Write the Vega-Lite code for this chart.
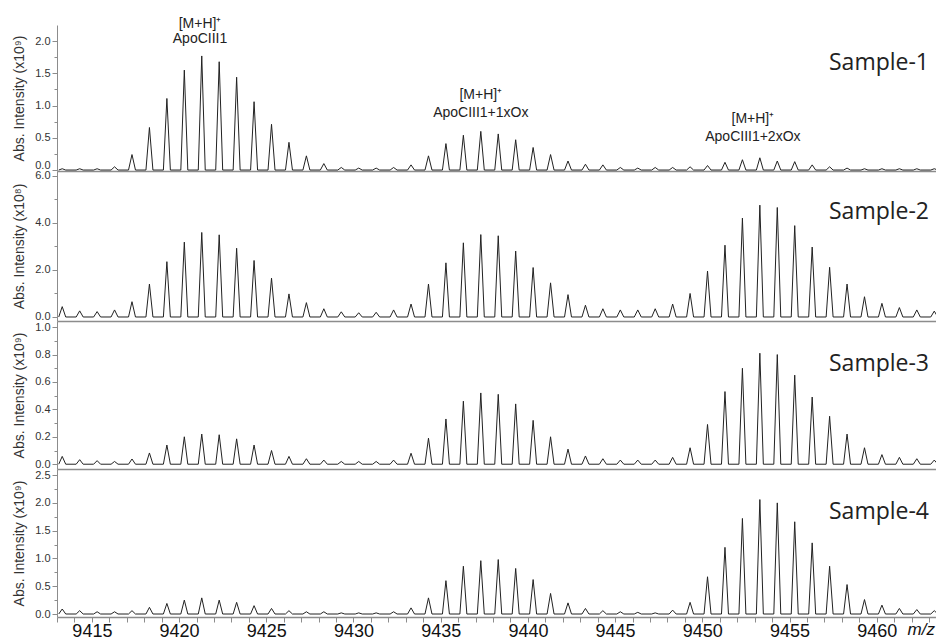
{
"$schema":"https://vega.github.io/schema/vega-lite/v6.json",
"background":"white",
"padding":{"left":12,"top":16,"right":0,"bottom":0},
"bounds":"flush",
"spacing":0,
"config":{"view":{"stroke":null},"axis":{"grid":false,"labelFont":"Liberation Sans","labelFontSize":11,"labelColor":"#333","titleFont":"Liberation Sans","titleFontSize":14,"titleFontWeight":"normal","titleColor":"#333","domainColor":"#8c8c8c","tickColor":"#8c8c8c","labelOverlap":false,"labelFlush":false,"labelPadding":2,"titlePadding":8}},
"datasets":{
"p1":[
{"x":9413.1,"y":0},{"x":9413.3,"y":0.02},{"x":9413.5,"y":0},
{"x":9414.1,"y":0},{"x":9414.3,"y":0.02},{"x":9414.5,"y":0},
{"x":9415.1,"y":0},{"x":9415.3,"y":0.02},{"x":9415.5,"y":0},
{"x":9416.1,"y":0},{"x":9416.3,"y":0.05},{"x":9416.5,"y":0},
{"x":9417.1,"y":0},{"x":9417.3,"y":0.24},{"x":9417.5,"y":0},
{"x":9418.1,"y":0},{"x":9418.3,"y":0.66},{"x":9418.5,"y":0},
{"x":9419.1,"y":0},{"x":9419.3,"y":1.11},{"x":9419.5,"y":0},
{"x":9420.1,"y":0},{"x":9420.3,"y":1.55},{"x":9420.5,"y":0},
{"x":9421.1,"y":0},{"x":9421.3,"y":1.77},{"x":9421.5,"y":0},
{"x":9422.1,"y":0},{"x":9422.3,"y":1.68},{"x":9422.5,"y":0},
{"x":9423.1,"y":0},{"x":9423.3,"y":1.44},{"x":9423.5,"y":0},
{"x":9424.1,"y":0},{"x":9424.3,"y":1.06},{"x":9424.5,"y":0},
{"x":9425.1,"y":0},{"x":9425.3,"y":0.71},{"x":9425.5,"y":0},
{"x":9426.1,"y":0},{"x":9426.3,"y":0.43},{"x":9426.5,"y":0},
{"x":9427.1,"y":0},{"x":9427.3,"y":0.22},{"x":9427.5,"y":0},
{"x":9428.1,"y":0},{"x":9428.3,"y":0.10},{"x":9428.5,"y":0},
{"x":9429.1,"y":0},{"x":9429.3,"y":0.04},{"x":9429.5,"y":0},
{"x":9430.1,"y":0},{"x":9430.3,"y":0.03},{"x":9430.5,"y":0},
{"x":9431.1,"y":0},{"x":9431.3,"y":0.03},{"x":9431.5,"y":0},
{"x":9432.1,"y":0},{"x":9432.3,"y":0.04},{"x":9432.5,"y":0},
{"x":9433.1,"y":0},{"x":9433.3,"y":0.08},{"x":9433.5,"y":0},
{"x":9434.1,"y":0},{"x":9434.3,"y":0.22},{"x":9434.5,"y":0},
{"x":9435.1,"y":0},{"x":9435.3,"y":0.41},{"x":9435.5,"y":0},
{"x":9436.1,"y":0},{"x":9436.3,"y":0.54},{"x":9436.5,"y":0},
{"x":9437.1,"y":0},{"x":9437.3,"y":0.60},{"x":9437.5,"y":0},
{"x":9438.1,"y":0},{"x":9438.3,"y":0.56},{"x":9438.5,"y":0},
{"x":9439.1,"y":0},{"x":9439.3,"y":0.47},{"x":9439.5,"y":0},
{"x":9440.1,"y":0},{"x":9440.3,"y":0.35},{"x":9440.5,"y":0},
{"x":9441.1,"y":0},{"x":9441.3,"y":0.24},{"x":9441.5,"y":0},
{"x":9442.1,"y":0},{"x":9442.3,"y":0.14},{"x":9442.5,"y":0},
{"x":9443.1,"y":0},{"x":9443.3,"y":0.09},{"x":9443.5,"y":0},
{"x":9444.1,"y":0},{"x":9444.3,"y":0.08},{"x":9444.5,"y":0},
{"x":9445.1,"y":0},{"x":9445.3,"y":0.04},{"x":9445.5,"y":0},
{"x":9446.1,"y":0},{"x":9446.3,"y":0.03},{"x":9446.5,"y":0},
{"x":9447.1,"y":0},{"x":9447.3,"y":0.04},{"x":9447.5,"y":0},
{"x":9448.1,"y":0},{"x":9448.3,"y":0.04},{"x":9448.5,"y":0},
{"x":9449.1,"y":0},{"x":9449.3,"y":0.05},{"x":9449.5,"y":0},
{"x":9450.1,"y":0},{"x":9450.3,"y":0.07},{"x":9450.5,"y":0},
{"x":9451.1,"y":0},{"x":9451.3,"y":0.12},{"x":9451.5,"y":0},
{"x":9452.1,"y":0},{"x":9452.3,"y":0.16},{"x":9452.5,"y":0},
{"x":9453.1,"y":0},{"x":9453.3,"y":0.19},{"x":9453.5,"y":0},
{"x":9454.1,"y":0},{"x":9454.3,"y":0.14},{"x":9454.5,"y":0},
{"x":9455.1,"y":0},{"x":9455.3,"y":0.13},{"x":9455.5,"y":0},
{"x":9456.1,"y":0},{"x":9456.3,"y":0.08},{"x":9456.5,"y":0},
{"x":9457.1,"y":0},{"x":9457.3,"y":0.05},{"x":9457.5,"y":0},
{"x":9458.1,"y":0},{"x":9458.3,"y":0.03},{"x":9458.5,"y":0},
{"x":9459.1,"y":0},{"x":9459.3,"y":0.02},{"x":9459.5,"y":0},
{"x":9460.1,"y":0},{"x":9460.3,"y":0.02},{"x":9460.5,"y":0},
{"x":9461.1,"y":0},{"x":9461.3,"y":0.02},{"x":9461.5,"y":0},
{"x":9462.1,"y":0},{"x":9462.3,"y":0.02},{"x":9462.5,"y":0},
{"x":9463.1,"y":0},{"x":9463.3,"y":0.02},{"x":9463.5,"y":0}
],
"p2":[
{"x":9413.1,"y":0},{"x":9413.3,"y":0.44},{"x":9413.5,"y":0},
{"x":9414.1,"y":0},{"x":9414.3,"y":0.26},{"x":9414.5,"y":0},
{"x":9415.1,"y":0},{"x":9415.3,"y":0.23},{"x":9415.5,"y":0},
{"x":9416.1,"y":0},{"x":9416.3,"y":0.30},{"x":9416.5,"y":0},
{"x":9417.1,"y":0},{"x":9417.3,"y":0.65},{"x":9417.5,"y":0},
{"x":9418.1,"y":0},{"x":9418.3,"y":1.40},{"x":9418.5,"y":0},
{"x":9419.1,"y":0},{"x":9419.3,"y":2.35},{"x":9419.5,"y":0},
{"x":9420.1,"y":0},{"x":9420.3,"y":3.18},{"x":9420.5,"y":0},
{"x":9421.1,"y":0},{"x":9421.3,"y":3.59},{"x":9421.5,"y":0},
{"x":9422.1,"y":0},{"x":9422.3,"y":3.49},{"x":9422.5,"y":0},
{"x":9423.1,"y":0},{"x":9423.3,"y":2.92},{"x":9423.5,"y":0},
{"x":9424.1,"y":0},{"x":9424.3,"y":2.40},{"x":9424.5,"y":0},
{"x":9425.1,"y":0},{"x":9425.3,"y":1.65},{"x":9425.5,"y":0},
{"x":9426.1,"y":0},{"x":9426.3,"y":0.98},{"x":9426.5,"y":0},
{"x":9427.1,"y":0},{"x":9427.3,"y":0.61},{"x":9427.5,"y":0},
{"x":9428.1,"y":0},{"x":9428.3,"y":0.35},{"x":9428.5,"y":0},
{"x":9429.1,"y":0},{"x":9429.3,"y":0.22},{"x":9429.5,"y":0},
{"x":9430.1,"y":0},{"x":9430.3,"y":0.18},{"x":9430.5,"y":0},
{"x":9431.1,"y":0},{"x":9431.3,"y":0.20},{"x":9431.5,"y":0},
{"x":9432.1,"y":0},{"x":9432.3,"y":0.30},{"x":9432.5,"y":0},
{"x":9433.1,"y":0},{"x":9433.3,"y":0.55},{"x":9433.5,"y":0},
{"x":9434.1,"y":0},{"x":9434.3,"y":1.40},{"x":9434.5,"y":0},
{"x":9435.1,"y":0},{"x":9435.3,"y":2.30},{"x":9435.5,"y":0},
{"x":9436.1,"y":0},{"x":9436.3,"y":3.15},{"x":9436.5,"y":0},
{"x":9437.1,"y":0},{"x":9437.3,"y":3.50},{"x":9437.5,"y":0},
{"x":9438.1,"y":0},{"x":9438.3,"y":3.45},{"x":9438.5,"y":0},
{"x":9439.1,"y":0},{"x":9439.3,"y":2.80},{"x":9439.5,"y":0},
{"x":9440.1,"y":0},{"x":9440.3,"y":2.10},{"x":9440.5,"y":0},
{"x":9441.1,"y":0},{"x":9441.3,"y":1.45},{"x":9441.5,"y":0},
{"x":9442.1,"y":0},{"x":9442.3,"y":0.95},{"x":9442.5,"y":0},
{"x":9443.1,"y":0},{"x":9443.3,"y":0.50},{"x":9443.5,"y":0},
{"x":9444.1,"y":0},{"x":9444.3,"y":0.35},{"x":9444.5,"y":0},
{"x":9445.1,"y":0},{"x":9445.3,"y":0.30},{"x":9445.5,"y":0},
{"x":9446.1,"y":0},{"x":9446.3,"y":0.30},{"x":9446.5,"y":0},
{"x":9447.1,"y":0},{"x":9447.3,"y":0.35},{"x":9447.5,"y":0},
{"x":9448.1,"y":0},{"x":9448.3,"y":0.55},{"x":9448.5,"y":0},
{"x":9449.1,"y":0},{"x":9449.3,"y":1.00},{"x":9449.5,"y":0},
{"x":9450.1,"y":0},{"x":9450.3,"y":1.95},{"x":9450.5,"y":0},
{"x":9451.1,"y":0},{"x":9451.3,"y":3.05},{"x":9451.5,"y":0},
{"x":9452.1,"y":0},{"x":9452.3,"y":4.20},{"x":9452.5,"y":0},
{"x":9453.1,"y":0},{"x":9453.3,"y":4.75},{"x":9453.5,"y":0},
{"x":9454.1,"y":0},{"x":9454.3,"y":4.65},{"x":9454.5,"y":0},
{"x":9455.1,"y":0},{"x":9455.3,"y":3.88},{"x":9455.5,"y":0},
{"x":9456.1,"y":0},{"x":9456.3,"y":2.97},{"x":9456.5,"y":0},
{"x":9457.1,"y":0},{"x":9457.3,"y":2.11},{"x":9457.5,"y":0},
{"x":9458.1,"y":0},{"x":9458.3,"y":1.40},{"x":9458.5,"y":0},
{"x":9459.1,"y":0},{"x":9459.3,"y":0.86},{"x":9459.5,"y":0},
{"x":9460.1,"y":0},{"x":9460.3,"y":0.58},{"x":9460.5,"y":0},
{"x":9461.1,"y":0},{"x":9461.3,"y":0.40},{"x":9461.5,"y":0},
{"x":9462.1,"y":0},{"x":9462.3,"y":0.30},{"x":9462.5,"y":0},
{"x":9463.1,"y":0},{"x":9463.3,"y":0.25},{"x":9463.5,"y":0}
],
"p3":[
{"x":9413.1,"y":0},{"x":9413.3,"y":0.057},{"x":9413.5,"y":0},
{"x":9414.1,"y":0},{"x":9414.3,"y":0.033},{"x":9414.5,"y":0},
{"x":9415.1,"y":0},{"x":9415.3,"y":0.026},{"x":9415.5,"y":0},
{"x":9416.1,"y":0},{"x":9416.3,"y":0.02},{"x":9416.5,"y":0},
{"x":9417.1,"y":0},{"x":9417.3,"y":0.038},{"x":9417.5,"y":0},
{"x":9418.1,"y":0},{"x":9418.3,"y":0.082},{"x":9418.5,"y":0},
{"x":9419.1,"y":0},{"x":9419.3,"y":0.14},{"x":9419.5,"y":0},
{"x":9420.1,"y":0},{"x":9420.3,"y":0.20},{"x":9420.5,"y":0},
{"x":9421.1,"y":0},{"x":9421.3,"y":0.22},{"x":9421.5,"y":0},
{"x":9422.1,"y":0},{"x":9422.3,"y":0.215},{"x":9422.5,"y":0},
{"x":9423.1,"y":0},{"x":9423.3,"y":0.185},{"x":9423.5,"y":0},
{"x":9424.1,"y":0},{"x":9424.3,"y":0.14},{"x":9424.5,"y":0},
{"x":9425.1,"y":0},{"x":9425.3,"y":0.10},{"x":9425.5,"y":0},
{"x":9426.1,"y":0},{"x":9426.3,"y":0.057},{"x":9426.5,"y":0},
{"x":9427.1,"y":0},{"x":9427.3,"y":0.04},{"x":9427.5,"y":0},
{"x":9428.1,"y":0},{"x":9428.3,"y":0.03},{"x":9428.5,"y":0},
{"x":9429.1,"y":0},{"x":9429.3,"y":0.02},{"x":9429.5,"y":0},
{"x":9430.1,"y":0},{"x":9430.3,"y":0.02},{"x":9430.5,"y":0},
{"x":9431.1,"y":0},{"x":9431.3,"y":0.02},{"x":9431.5,"y":0},
{"x":9432.1,"y":0},{"x":9432.3,"y":0.03},{"x":9432.5,"y":0},
{"x":9433.1,"y":0},{"x":9433.3,"y":0.08},{"x":9433.5,"y":0},
{"x":9434.1,"y":0},{"x":9434.3,"y":0.19},{"x":9434.5,"y":0},
{"x":9435.1,"y":0},{"x":9435.3,"y":0.33},{"x":9435.5,"y":0},
{"x":9436.1,"y":0},{"x":9436.3,"y":0.46},{"x":9436.5,"y":0},
{"x":9437.1,"y":0},{"x":9437.3,"y":0.52},{"x":9437.5,"y":0},
{"x":9438.1,"y":0},{"x":9438.3,"y":0.51},{"x":9438.5,"y":0},
{"x":9439.1,"y":0},{"x":9439.3,"y":0.44},{"x":9439.5,"y":0},
{"x":9440.1,"y":0},{"x":9440.3,"y":0.32},{"x":9440.5,"y":0},
{"x":9441.1,"y":0},{"x":9441.3,"y":0.20},{"x":9441.5,"y":0},
{"x":9442.1,"y":0},{"x":9442.3,"y":0.11},{"x":9442.5,"y":0},
{"x":9443.1,"y":0},{"x":9443.3,"y":0.06},{"x":9443.5,"y":0},
{"x":9444.1,"y":0},{"x":9444.3,"y":0.04},{"x":9444.5,"y":0},
{"x":9445.1,"y":0},{"x":9445.3,"y":0.03},{"x":9445.5,"y":0},
{"x":9446.1,"y":0},{"x":9446.3,"y":0.03},{"x":9446.5,"y":0},
{"x":9447.1,"y":0},{"x":9447.3,"y":0.03},{"x":9447.5,"y":0},
{"x":9448.1,"y":0},{"x":9448.3,"y":0.05},{"x":9448.5,"y":0},
{"x":9449.1,"y":0},{"x":9449.3,"y":0.12},{"x":9449.5,"y":0},
{"x":9450.1,"y":0},{"x":9450.3,"y":0.29},{"x":9450.5,"y":0},
{"x":9451.1,"y":0},{"x":9451.3,"y":0.53},{"x":9451.5,"y":0},
{"x":9452.1,"y":0},{"x":9452.3,"y":0.70},{"x":9452.5,"y":0},
{"x":9453.1,"y":0},{"x":9453.3,"y":0.81},{"x":9453.5,"y":0},
{"x":9454.1,"y":0},{"x":9454.3,"y":0.80},{"x":9454.5,"y":0},
{"x":9455.1,"y":0},{"x":9455.3,"y":0.65},{"x":9455.5,"y":0},
{"x":9456.1,"y":0},{"x":9456.3,"y":0.49},{"x":9456.5,"y":0},
{"x":9457.1,"y":0},{"x":9457.3,"y":0.35},{"x":9457.5,"y":0},
{"x":9458.1,"y":0},{"x":9458.3,"y":0.22},{"x":9458.5,"y":0},
{"x":9459.1,"y":0},{"x":9459.3,"y":0.12},{"x":9459.5,"y":0},
{"x":9460.1,"y":0},{"x":9460.3,"y":0.07},{"x":9460.5,"y":0},
{"x":9461.1,"y":0},{"x":9461.3,"y":0.05},{"x":9461.5,"y":0},
{"x":9462.1,"y":0},{"x":9462.3,"y":0.04},{"x":9462.5,"y":0},
{"x":9463.1,"y":0},{"x":9463.3,"y":0.03},{"x":9463.5,"y":0}
],
"p4":[
{"x":9413.1,"y":0},{"x":9413.3,"y":0.09},{"x":9413.5,"y":0},
{"x":9414.1,"y":0},{"x":9414.3,"y":0.06},{"x":9414.5,"y":0},
{"x":9415.1,"y":0},{"x":9415.3,"y":0.04},{"x":9415.5,"y":0},
{"x":9416.1,"y":0},{"x":9416.3,"y":0.04},{"x":9416.5,"y":0},
{"x":9417.1,"y":0},{"x":9417.3,"y":0.06},{"x":9417.5,"y":0},
{"x":9418.1,"y":0},{"x":9418.3,"y":0.12},{"x":9418.5,"y":0},
{"x":9419.1,"y":0},{"x":9419.3,"y":0.19},{"x":9419.5,"y":0},
{"x":9420.1,"y":0},{"x":9420.3,"y":0.25},{"x":9420.5,"y":0},
{"x":9421.1,"y":0},{"x":9421.3,"y":0.29},{"x":9421.5,"y":0},
{"x":9422.1,"y":0},{"x":9422.3,"y":0.25},{"x":9422.5,"y":0},
{"x":9423.1,"y":0},{"x":9423.3,"y":0.21},{"x":9423.5,"y":0},
{"x":9424.1,"y":0},{"x":9424.3,"y":0.15},{"x":9424.5,"y":0},
{"x":9425.1,"y":0},{"x":9425.3,"y":0.10},{"x":9425.5,"y":0},
{"x":9426.1,"y":0},{"x":9426.3,"y":0.06},{"x":9426.5,"y":0},
{"x":9427.1,"y":0},{"x":9427.3,"y":0.04},{"x":9427.5,"y":0},
{"x":9428.1,"y":0},{"x":9428.3,"y":0.04},{"x":9428.5,"y":0},
{"x":9429.1,"y":0},{"x":9429.3,"y":0.02},{"x":9429.5,"y":0},
{"x":9430.1,"y":0},{"x":9430.3,"y":0.02},{"x":9430.5,"y":0},
{"x":9431.1,"y":0},{"x":9431.3,"y":0.02},{"x":9431.5,"y":0},
{"x":9432.1,"y":0},{"x":9432.3,"y":0.04},{"x":9432.5,"y":0},
{"x":9433.1,"y":0},{"x":9433.3,"y":0.11},{"x":9433.5,"y":0},
{"x":9434.1,"y":0},{"x":9434.3,"y":0.29},{"x":9434.5,"y":0},
{"x":9435.1,"y":0},{"x":9435.3,"y":0.60},{"x":9435.5,"y":0},
{"x":9436.1,"y":0},{"x":9436.3,"y":0.86},{"x":9436.5,"y":0},
{"x":9437.1,"y":0},{"x":9437.3,"y":0.96},{"x":9437.5,"y":0},
{"x":9438.1,"y":0},{"x":9438.3,"y":0.98},{"x":9438.5,"y":0},
{"x":9439.1,"y":0},{"x":9439.3,"y":0.82},{"x":9439.5,"y":0},
{"x":9440.1,"y":0},{"x":9440.3,"y":0.62},{"x":9440.5,"y":0},
{"x":9441.1,"y":0},{"x":9441.3,"y":0.37},{"x":9441.5,"y":0},
{"x":9442.1,"y":0},{"x":9442.3,"y":0.20},{"x":9442.5,"y":0},
{"x":9443.1,"y":0},{"x":9443.3,"y":0.10},{"x":9443.5,"y":0},
{"x":9444.1,"y":0},{"x":9444.3,"y":0.06},{"x":9444.5,"y":0},
{"x":9445.1,"y":0},{"x":9445.3,"y":0.04},{"x":9445.5,"y":0},
{"x":9446.1,"y":0},{"x":9446.3,"y":0.03},{"x":9446.5,"y":0},
{"x":9447.1,"y":0},{"x":9447.3,"y":0.02},{"x":9447.5,"y":0},
{"x":9448.1,"y":0},{"x":9448.3,"y":0.07},{"x":9448.5,"y":0},
{"x":9449.1,"y":0},{"x":9449.3,"y":0.21},{"x":9449.5,"y":0},
{"x":9450.1,"y":0},{"x":9450.3,"y":0.67},{"x":9450.5,"y":0},
{"x":9451.1,"y":0},{"x":9451.3,"y":1.20},{"x":9451.5,"y":0},
{"x":9452.1,"y":0},{"x":9452.3,"y":1.72},{"x":9452.5,"y":0},
{"x":9453.1,"y":0},{"x":9453.3,"y":2.06},{"x":9453.5,"y":0},
{"x":9454.1,"y":0},{"x":9454.3,"y":2.00},{"x":9454.5,"y":0},
{"x":9455.1,"y":0},{"x":9455.3,"y":1.66},{"x":9455.5,"y":0},
{"x":9456.1,"y":0},{"x":9456.3,"y":1.28},{"x":9456.5,"y":0},
{"x":9457.1,"y":0},{"x":9457.3,"y":0.86},{"x":9457.5,"y":0},
{"x":9458.1,"y":0},{"x":9458.3,"y":0.53},{"x":9458.5,"y":0},
{"x":9459.1,"y":0},{"x":9459.3,"y":0.26},{"x":9459.5,"y":0},
{"x":9460.1,"y":0},{"x":9460.3,"y":0.16},{"x":9460.5,"y":0},
{"x":9461.1,"y":0},{"x":9461.3,"y":0.10},{"x":9461.5,"y":0},
{"x":9462.1,"y":0},{"x":9462.3,"y":0.08},{"x":9462.5,"y":0},
{"x":9463.1,"y":0},{"x":9463.3,"y":0.06},{"x":9463.5,"y":0}
]
},
"vconcat":[
{"width":879,"height":146,
"layer":[
{"data":{"name":"p1"},"mark":{"type":"line","color":"#222","strokeWidth":1,"clip":true},
"encoding":{
"x":{"field":"x","type":"quantitative","scale":{"domain":[9413.0,9463.4],"nice":false,"zero":false},"axis":{"title":null,"labels":false,"ticks":false,"domainWidth":1.5}},
"y":{"field":"y","type":"quantitative","scale":{"domain":[-0.015,2.25],"nice":false,"zero":false},"axis":{"title":"Abs. Intensity (x10⁹)","tickCount":500,"labelOverlap":false,"values":[0,0.25,0.5,0.75,1,1.25,1.5,1.75,2],"labelExpr":"abs(datum.value*2-round(datum.value*2))<0.001 ? format(datum.value,'.1f') : ''","tickSize":{"condition":{"test":"abs(datum.value*2-round(datum.value*2))<0.001","value":5},"value":3},"labelBaseline":{"condition":{"test":"datum.value===0","value":"bottom"},"value":"middle"}}}}},
{"data":{"values":[{"x":9421.2,"y":2.27,"t":"[M+H]⁺"},{"x":9421.2,"y":2.04,"t":"ApoCIII1"},{"x":9437.3,"y":1.165,"t":"[M+H]⁺"},{"x":9437.3,"y":0.88,"t":"ApoCIII1+1xOx"},{"x":9452.9,"y":0.79,"t":"[M+H]⁺"},{"x":9452.9,"y":0.51,"t":"ApoCIII1+2xOx"}]},
"mark":{"type":"text","font":"Liberation Sans","fontSize":14,"color":"#222","align":"center","baseline":"middle"},
"encoding":{"x":{"field":"x","type":"quantitative"},"y":{"field":"y","type":"quantitative"},"text":{"field":"t"}}},
{"data":{"values":[{"x":9463.0,"y":1.66,"t":"Sample-1"}]},
"mark":{"type":"text","font":"Open Sans","fontSize":23,"color":"#222","align":"right","baseline":"middle"},
"encoding":{"x":{"field":"x","type":"quantitative"},"y":{"field":"y","type":"quantitative"},"text":{"field":"t"}}}
]},
{"width":879,"height":150,
"layer":[
{"data":{"name":"p2"},"mark":{"type":"line","color":"#222","strokeWidth":1,"clip":true},
"encoding":{
"x":{"field":"x","type":"quantitative","scale":{"domain":[9413.0,9463.4],"nice":false,"zero":false},"axis":{"title":null,"labels":false,"ticks":false,"domainWidth":1.5}},
"y":{"field":"y","type":"quantitative","scale":{"domain":[-0.17,6.2],"nice":false,"zero":false},"axis":{"title":"Abs. Intensity (x10⁸)","tickCount":500,"labelOverlap":false,"values":[0,1,2,3,4,5,6],"labelExpr":"datum.value%2===0 ? format(datum.value,'.1f') : ''","tickSize":{"condition":{"test":"datum.value%2===0","value":5},"value":3}}}}},
{"data":{"values":[{"x":9463.0,"y":4.44,"t":"Sample-2"}]},
"mark":{"type":"text","font":"Open Sans","fontSize":23,"color":"#222","align":"right","baseline":"middle"},
"encoding":{"x":{"field":"x","type":"quantitative"},"y":{"field":"y","type":"quantitative"},"text":{"field":"t"}}}
]},
{"width":879,"height":148,
"layer":[
{"data":{"name":"p3"},"mark":{"type":"line","color":"#222","strokeWidth":1,"clip":true},
"encoding":{
"x":{"field":"x","type":"quantitative","scale":{"domain":[9413.0,9463.4],"nice":false,"zero":false},"axis":{"title":null,"labels":false,"ticks":false,"domainWidth":1.5}},
"y":{"field":"y","type":"quantitative","scale":{"domain":[-0.035,1.045],"nice":false,"zero":false},"axis":{"title":"Abs. Intensity (x10⁹)","tickCount":500,"labelOverlap":false,"values":[0,0.1,0.2,0.3,0.4,0.5,0.6,0.7,0.8,0.9,1.0],"labelExpr":"abs(datum.value*5-round(datum.value*5))<0.001 ? format(datum.value,'.1f') : ''","tickSize":{"condition":{"test":"abs(datum.value*5-round(datum.value*5))<0.001","value":5},"value":3}}}}},
{"data":{"values":[{"x":9463.0,"y":0.73,"t":"Sample-3"}]},
"mark":{"type":"text","font":"Open Sans","fontSize":23,"color":"#222","align":"right","baseline":"middle"},
"encoding":{"x":{"field":"x","type":"quantitative"},"y":{"field":"y","type":"quantitative"},"text":{"field":"t"}}}
]},
{"width":879,"height":148,
"layer":[
{"data":{"name":"p4"},"mark":{"type":"line","color":"#222","strokeWidth":1,"clip":true},
"encoding":{
"x":{"field":"x","type":"quantitative","scale":{"domain":[9413.0,9463.4],"nice":false,"zero":false},"axis":{"title":"m/z","tickCount":500,"labelOverlap":false,"values":[9413,9414,9415,9416,9417,9418,9419,9420,9421,9422,9423,9424,9425,9426,9427,9428,9429,9430,9431,9432,9433,9434,9435,9436,9437,9438,9439,9440,9441,9442,9443,9444,9445,9446,9447,9448,9449,9450,9451,9452,9453,9454,9455,9456,9457,9458,9459,9460,9461,9462,9463],"format":"d","labelExpr":"datum.value%5===0 ? datum.label : ''","labelFontSize":18,"labelColor":"#111","labelPadding":0,"tickSize":5,"domainWidth":1.5,"titleFontStyle":"italic","titleFontSize":17,"titleColor":"#111","titleX":850,"titleY":17,"titleAlign":"left","titleBaseline":"alphabetic","titleAnchor":"start"}},
"y":{"field":"y","type":"quantitative","scale":{"domain":[-0.054,2.61],"nice":false,"zero":false},"axis":{"title":"Abs. Intensity (x10⁹)","tickCount":500,"labelOverlap":false,"values":[0,0.25,0.5,0.75,1,1.25,1.5,1.75,2,2.25,2.5],"labelExpr":"abs(datum.value*2-round(datum.value*2))<0.001 ? format(datum.value,'.1f') : ''","tickSize":{"condition":{"test":"abs(datum.value*2-round(datum.value*2))<0.001","value":5},"value":3}}}}},
{"data":{"values":[{"x":9463.0,"y":1.83,"t":"Sample-4"}]},
"mark":{"type":"text","font":"Open Sans","fontSize":23,"color":"#222","align":"right","baseline":"middle"},
"encoding":{"x":{"field":"x","type":"quantitative"},"y":{"field":"y","type":"quantitative"},"text":{"field":"t"}}}
]}
]
}
